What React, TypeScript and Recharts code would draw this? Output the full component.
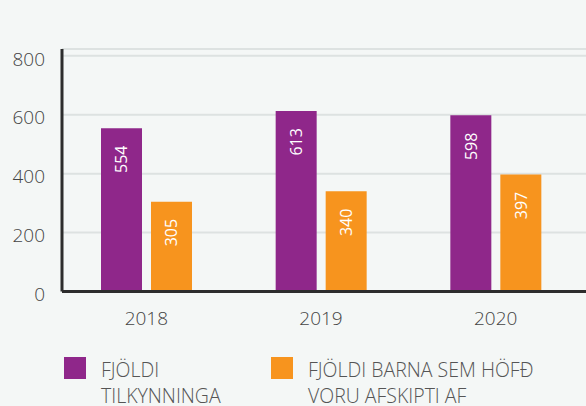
import React from "react";
import { BarChart, Bar, XAxis, YAxis, CartesianGrid, LabelList } from "recharts";

const years = ["2018", "2019", "2020"];
const reports = [554, 613, 598];
const children = [305, 340, 397];
const yTicks = [0, 200, 400, 600, 800];
const seriesNames = ["FJÖLDI TILKYNNINGA", "FJÖLDI BARNA SEM HÖFÐ VORU AFSKIPTI AF"];
const colors = ["#8f278a", "#f7941e"];

const data = years.map((year, i) => ({
  year,
  reports: reports[i],
  children: children[i],
}));

const font = '"Open Sans", sans-serif';

// rotated value near the top of each bar
const BarValue = (props: any) => {
  const { x, y, width, value } = props;
  const cx = x + width / 2;
  const cy = y + 31;
  return (
    <text
      x={cx}
      y={cy}
      fill="#fff"
      fontSize={16}
      fontFamily={font}
      textAnchor="middle"
      dominantBaseline="central"
      transform={`rotate(-90 ${cx} ${cy})`}
    >
      {value}
    </text>
  );
};

const legendItems = [
  { left: 64, width: 150 },
  { left: 271, width: 240 },
];

export default function App() {
  return (
    <div
      style={{
        position: "absolute",
        left: 0,
        top: 0,
        width: 586,
        height: 406,
        background: "#f4f7f6",
        overflow: "hidden",
        fontFamily: font,
      }}
    >
      <BarChart
        width={586}
        height={406}
        data={data}
        margin={{ top: 49, right: 0, bottom: 0, left: 0 }}
        barSize={41}
        barGap={9}
      >
        <CartesianGrid vertical={false} stroke="#dde2e1" strokeWidth={2} />
        <XAxis
          dataKey="year"
          height={114.5}
          padding={{ left: -3, right: 3 }}
          tickSize={0}
          tickMargin={20}
          tickLine={false}
          axisLine={{ stroke: "#2d2d2d", strokeWidth: 3 }}
          tick={{ fill: "#444", fontSize: 19, fontWeight: 300, fontFamily: font }}
        />
        <YAxis
          width={62}
          domain={[0, 823]}
          ticks={yTicks}
          tickSize={0}
          tickMargin={17}
          tickLine={false}
          axisLine={{ stroke: "#2d2d2d", strokeWidth: 3 }}
          tick={{ fill: "#444", fontSize: 19, fontWeight: 300, fontFamily: font, dy: 3 }}
        />
        <Bar dataKey="reports" fill={colors[0]} isAnimationActive={false}>
          <LabelList dataKey="reports" content={BarValue} />
        </Bar>
        <Bar dataKey="children" fill={colors[1]} isAnimationActive={false}>
          <LabelList dataKey="children" content={BarValue} />
        </Bar>
      </BarChart>
      {legendItems.map((item, i) => (
        <div
          key={i}
          style={{
            position: "absolute",
            left: item.left,
            top: 357,
            display: "flex",
            alignItems: "flex-start",
          }}
        >
          <div style={{ width: 22, height: 22, background: colors[i], flexShrink: 0 }} />
          <div
            style={{
              marginLeft: 15,
              width: item.width,
              fontSize: 19.5,
              lineHeight: "26px",
              fontWeight: 300,
              color: "#555",
            }}
          >
            {seriesNames[i]}
          </div>
        </div>
      ))}
    </div>
  );
}
